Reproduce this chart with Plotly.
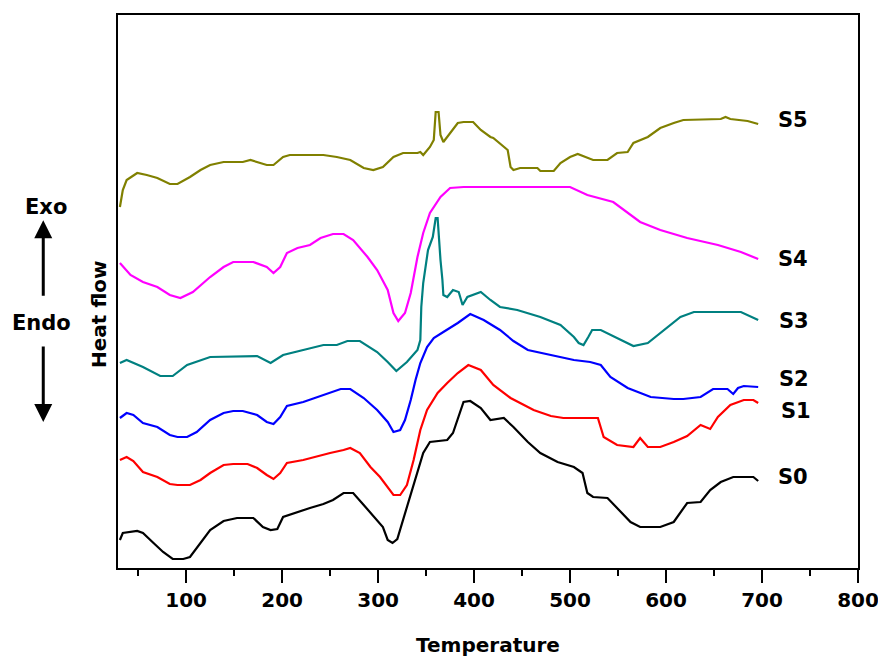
import plotly.graph_objects as go

# Temperature (x) and heat-flow (arbitrary units, offset per sample)
s5_t = [31, 34, 38, 49, 59, 70, 83, 91, 104, 115, 125, 139, 159, 167, 184, 191, 201, 208, 243, 257, 271, 285, 295, 305, 316, 326, 341, 344, 347, 354, 358, 360, 363, 365, 368, 375, 383, 389, 399, 407, 417, 420, 431, 435, 438, 441, 448, 466, 469, 483, 490, 500, 508, 518, 524, 539, 549, 560, 566, 581, 594, 608, 618, 657, 662, 667, 685, 696]
s5_y = [361, 378, 388, 395, 393, 390, 384, 384, 391, 398, 403, 406, 406, 408, 403, 403, 411, 413, 413, 411, 408, 400, 398, 401, 411, 415, 415, 416, 413, 421, 428, 456, 456, 433, 426, 435, 445, 446, 446, 438, 431, 430, 421, 418, 401, 398, 400, 400, 397, 397, 405, 411, 414, 410, 408, 408, 415, 416, 425, 431, 440, 445, 448, 449, 451, 449, 447, 444]

s4_t = [31, 42, 55, 70, 83, 94, 107, 125, 139, 149, 170, 184, 191, 198, 205, 216, 229, 240, 253, 264, 274, 289, 299, 310, 316, 321, 328, 334, 341, 347, 354, 365, 375, 389, 500, 518, 545, 560, 573, 594, 622, 654, 678, 696]
s4_y = [305, 293, 286, 281, 273, 270, 276, 291, 301, 306, 306, 301, 295, 301, 315, 320, 323, 330, 334, 334, 328, 311, 298, 278, 255, 247, 255, 275, 311, 335, 355, 371, 380, 381, 381, 373, 366, 355, 346, 338, 330, 323, 316, 309]

s3_t = [31, 38, 55, 73, 86, 101, 125, 153, 174, 188, 201, 222, 243, 257, 268, 281, 299, 310, 319, 330, 341, 344, 345, 347, 352, 357, 360, 362, 363, 365, 367, 368, 372, 378, 384, 388, 393, 407, 417, 427, 445, 469, 490, 504, 509, 514, 519, 523, 532, 549, 566, 581, 602, 615, 629, 678, 696]
s3_y = [205, 208, 201, 192, 192, 203, 211, 212, 212, 205, 213, 218, 223, 223, 227, 227, 216, 206, 197, 206, 218, 228, 261, 285, 318, 331, 350, 350, 335, 308, 288, 273, 271, 278, 276, 263, 271, 276, 268, 261, 258, 251, 243, 231, 225, 223, 231, 238, 238, 230, 222, 225, 241, 251, 256, 256, 248]

s2_t = [31, 38, 45, 55, 70, 83, 91, 101, 111, 125, 139, 149, 159, 174, 184, 191, 198, 205, 222, 237, 250, 261, 271, 285, 299, 310, 316, 323, 328, 334, 339, 344, 351, 358, 368, 383, 396, 410, 427, 441, 456, 480, 504, 521, 532, 542, 560, 584, 608, 618, 636, 649, 664, 670, 675, 681, 696]
s2_y = [150, 155, 153, 145, 141, 133, 131, 131, 136, 148, 155, 157, 157, 153, 146, 144, 151, 162, 166, 171, 175, 179, 179, 170, 158, 146, 136, 138, 148, 168, 188, 205, 221, 230, 236, 245, 254, 248, 238, 227, 218, 213, 208, 206, 203, 191, 180, 171, 169, 169, 171, 179, 179, 174, 180, 182, 181]

s1_t = [31, 38, 45, 55, 70, 83, 91, 104, 115, 125, 139, 149, 164, 174, 184, 191, 198, 205, 222, 237, 250, 264, 271, 281, 292, 302, 310, 316, 323, 330, 337, 344, 351, 362, 372, 383, 394, 407, 420, 438, 462, 480, 493, 529, 535, 549, 566, 573, 581, 594, 608, 622, 636, 646, 654, 667, 681, 691, 696]
s1_y = [108, 111, 107, 96, 91, 84, 83, 83, 88, 95, 103, 104, 104, 100, 93, 89, 95, 105, 108, 112, 115, 118, 120, 115, 101, 91, 81, 73, 73, 83, 108, 138, 158, 175, 185, 195, 203, 198, 183, 170, 158, 152, 150, 150, 131, 123, 121, 130, 121, 121, 126, 132, 143, 139, 151, 163, 168, 168, 165]

s0_t = [31, 34, 49, 55, 66, 76, 86, 97, 104, 115, 125, 139, 153, 170, 180, 188, 195, 201, 216, 229, 243, 253, 264, 274, 285, 299, 305, 310, 315, 320, 326, 334, 341, 347, 354, 372, 378, 383, 389, 396, 407, 417, 431, 441, 456, 469, 487, 504, 513, 518, 524, 539, 549, 563, 573, 594, 608, 622, 636, 646, 657, 670, 691, 696]
s0_y = [28, 35, 37, 35, 25, 16, 9, 9, 11, 25, 38, 47, 50, 50, 41, 38, 39, 51, 56, 60, 64, 68, 75, 75, 63, 48, 41, 28, 25, 29, 48, 74, 98, 115, 126, 128, 135, 149, 166, 167, 160, 148, 150, 141, 126, 115, 106, 101, 95, 75, 71, 70, 60, 46, 41, 41, 46, 65, 66, 78, 86, 91, 91, 87]

series_names = ["S5", "S4", "S3", "S2", "S1", "S0"]
series_t = [s5_t, s4_t, s3_t, s2_t, s1_t, s0_t]
series_y = [s5_y, s4_y, s3_y, s2_y, s1_y, s0_y]
series_colors = ["#808000", "#FF00FF", "#008080", "#0000FF", "#FF0000", "#000000"]
label_t = [715, 715, 716, 716, 718, 715]
label_y = [448, 309, 247, 189, 157, 91]

x_tickvals = [100, 200, 300, 400, 500, 600, 700, 800]
x_ticktext = ["100", "200", "300", "400", "500", "600", "700", "800"]

FONT = "DejaVu Sans"

fig = go.Figure()
for name, t, y, c in zip(series_names, series_t, series_y, series_colors):
    fig.add_trace(go.Scatter(x=t, y=y, mode="lines", name=name,
                             line=dict(color=c, width=2.2), showlegend=False))

for name, lt, ly in zip(series_names, label_t, label_y):
    fig.add_annotation(x=lt, y=ly, xref="x", yref="y", text=name, showarrow=False,
                       xanchor="left", yanchor="middle",
                       font=dict(family=FONT, size=21, color="black", weight="bold"))

bold20 = dict(family=FONT, size=20, color="black", weight="bold")
fig.add_annotation(x=0.5, y=-0.139, xref="paper", yref="paper", text="Temperature",
                   showarrow=False, xanchor="center", yanchor="middle", font=bold20)
fig.add_annotation(x=-0.026, y=0.459, xref="paper", yref="paper", text="Heat flow",
                   showarrow=False, textangle=-90, xanchor="center", yanchor="middle",
                   font=bold20)
fig.add_annotation(x=-0.097, y=0.653, xref="paper", yref="paper", text="Exo",
                   showarrow=False, xanchor="center", yanchor="middle",
                   font=dict(family=FONT, size=21, color="black", weight="bold"))
fig.add_annotation(x=-0.104, y=0.443, xref="paper", yref="paper", text="Endo",
                   showarrow=False, xanchor="center", yanchor="middle",
                   font=dict(family=FONT, size=21, color="black", weight="bold"))
# Exo / Endo arrows
fig.add_annotation(x=-0.101, y=0.629, xref="paper", yref="paper", text="",
                   showarrow=True, ax=0, ay=77, arrowhead=2, arrowsize=1.2,
                   arrowwidth=3, arrowcolor="black")
fig.add_annotation(x=-0.101, y=0.264, xref="paper", yref="paper", text="",
                   showarrow=True, ax=0, ay=-77, arrowhead=2, arrowsize=1.2,
                   arrowwidth=3, arrowcolor="black")

fig.update_layout(
    width=878, height=657,
    margin=dict(l=118, r=20, t=15, b=89, autoexpand=False),
    paper_bgcolor="white", plot_bgcolor="white",
    xaxis=dict(range=[29, 800], tickvals=x_tickvals, ticktext=x_ticktext,
               automargin=False, ticklabeloverflow="allow",
               ticks="outside", ticklen=13, tickwidth=2, tickcolor="black",
               showline=True, linecolor="black", linewidth=2, mirror=True,
               showgrid=False, zeroline=False,
               tickfont=dict(family=FONT, size=20, color="black", weight="bold"),
               minor=dict(dtick=50, tick0=0, ticks="outside", ticklen=6,
                          tickwidth=2, tickcolor="black", showgrid=False)),
    yaxis=dict(range=[0, 553], showticklabels=False, ticks="", automargin=False,
               showline=True, linecolor="black", linewidth=2, mirror=True,
               showgrid=False, zeroline=False),
)

fig.write_html("out.html")
